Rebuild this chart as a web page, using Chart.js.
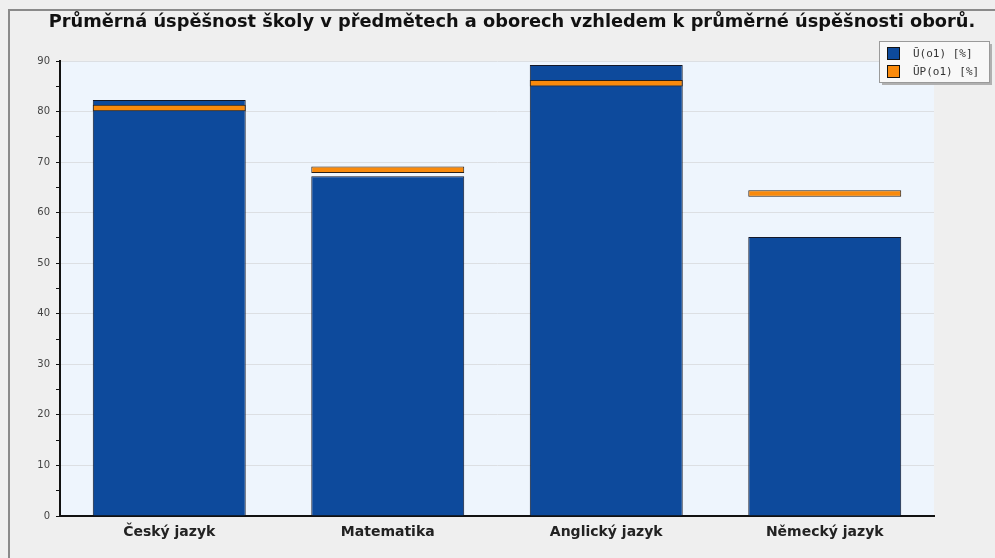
<!DOCTYPE html>
<html>
<head>
<meta charset="utf-8">
<script src="https://cdn.jsdelivr.net/npm/chart.js@4/dist/chart.umd.min.js"></script>
<style>
  html, body { margin: 0; padding: 0; background: #efefef; }
  #wrap { position: relative; width: 995px; height: 558px; overflow: hidden; }
  #frame { position: absolute; left: 8px; top: 9px; width: 1100px; height: 700px;
           border-left: 2px solid #8a8a8a; border-top: 2px solid #8a8a8a; }
  canvas { position: absolute; left: 0; top: 0; }
</style>
</head>
<body>
<div id="wrap">
  <div id="frame"></div>
  <canvas id="c" width="995" height="558"></canvas>
</div>
<script>
const chartTitle = 'Průměrná úspěšnost školy v předmětech a oborech vzhledem k průměrné úspěšnosti oborů.';
const categories = ['Český jazyk', 'Matematika', 'Anglický jazyk', 'Německý jazyk'];
const schoolValues = [82.3, 67.2, 89.2, 55.2];   // Ū(o1) [%]
const fieldValues = [80.7, 68.5, 85.6, 63.8];    // ŪP(o1) [%]
const seriesNames = ['Ū(o1) [%]', 'ŪP(o1) [%]'];
const yTicks = [0, 10, 20, 30, 40, 50, 60, 70, 80, 90];

const markerHalf = 0.65;

const bgPlugin = {
  id: 'plotBg',
  beforeDraw(chart) {
    const a = chart.chartArea, ctx = chart.ctx;
    ctx.save();
    ctx.fillStyle = '#eef5fd';
    ctx.fillRect(a.left, a.top, a.right - a.left, a.bottom - a.top);
    ctx.restore();
  }
};

// title centred on the whole frame, not on the padded chart box
const titlePlugin = {
  id: 'frameTitle',
  afterDraw(chart) {
    const ctx = chart.ctx;
    ctx.save();
    ctx.font = 'bold 17.8px "DejaVu Sans"';
    ctx.fillStyle = '#111';
    ctx.textAlign = 'center';
    ctx.textBaseline = 'middle';
    ctx.fillText(chartTitle, 512, 22);
    ctx.restore();
  }
};

const legendPlugin = {
  id: 'boxLegend',
  afterDraw(chart) {
    const ctx = chart.ctx;
    const x = 879, y = 41, w = 110, h = 41;
    ctx.save();
    ctx.fillStyle = '#b0b0b0';
    ctx.fillRect(x + 3, y + 3, w, h);
    ctx.fillStyle = '#f8f8f8';
    ctx.fillRect(x, y, w, h);
    ctx.strokeStyle = '#9a9a9a';
    ctx.lineWidth = 1;
    ctx.strokeRect(x + 0.5, y + 0.5, w, h);
    ctx.font = '11px "DejaVu Sans Mono"';
    ctx.textBaseline = 'middle';
    chart.data.datasets.forEach((ds, i) => {
      const iy = y + 12 + i * 18;
      ctx.fillStyle = ds.backgroundColor;
      ctx.fillRect(x + 8, iy - 6, 13, 13);
      ctx.strokeStyle = '#111';
      ctx.strokeRect(x + 8.5, iy - 5.5, 12, 12);
      ctx.fillStyle = '#333';
      ctx.fillText(ds.label, x + 34, iy + 1);
    });
    ctx.restore();
  }
};

new Chart(document.getElementById('c').getContext('2d'), {
  type: 'bar',
  data: {
    labels: categories,
    datasets: [{
      label: seriesNames[0],
      data: schoolValues,
      backgroundColor: '#0d4a9c',
      borderColor: '#141828',
      borderWidth: 1,
      grouped: false,
      order: 1,
      barPercentage: 0.7,
      categoryPercentage: 1
    }, {
      label: seriesNames[1],
      data: fieldValues.map(v => [v - markerHalf, v + markerHalf]),
      backgroundColor: '#f98a0c',
      borderColor: '#2a2018',
      borderWidth: 1,
      borderSkipped: false,
      grouped: false,
      order: 0,
      barPercentage: 0.7,
      categoryPercentage: 1
    }]
  },
  options: {
    responsive: false,
    animation: false,
    layout: { padding: { left: 10, right: 61, top: 61, bottom: 14 } },
    plugins: {
      legend: { display: false },
      tooltip: { enabled: false },
      title: { display: false }
    },
    scales: {
      x: {
        grid: { display: false },
        border: { color: '#111', width: 2 },
        ticks: { color: '#222', font: { family: 'DejaVu Sans', size: 14, weight: 'bold' }, padding: 0 },
        afterFit(scale) { scale.height = 28; }
      },
      y: {
        min: 0,
        max: 90,
        afterBuildTicks(scale) {
          const t = [];
          yTicks.forEach((v, i) => {
            t.push({ value: v });
            if (i < yTicks.length - 1) t.push({ value: v + 5 });
          });
          scale.ticks = t;
        },
        grid: {
          color: c => (c.tick && c.tick.value % 10 === 0 && c.tick.value > 0) ? '#dcdfe3' : 'rgba(0,0,0,0)',
          tickColor: '#111',
          tickLength: 4
        },
        border: { color: '#111', width: 2 },
        ticks: {
          color: '#444',
          font: { family: 'DejaVu Sans', size: 10 },
          padding: 6,
          callback: v => (v % 10 === 0 ? v : '')
        },
        afterFit(scale) { scale.width = 50; }
      }
    }
  },
  plugins: [bgPlugin, titlePlugin, legendPlugin]
});
</script>
</body>
</html>
